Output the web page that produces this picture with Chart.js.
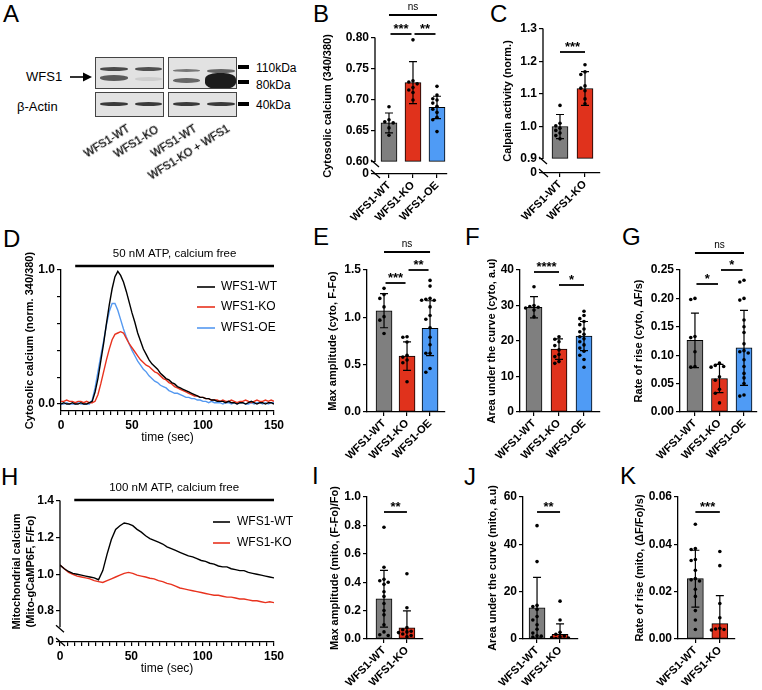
<!DOCTYPE html>
<html>
<head>
<meta charset="utf-8">
<script src="https://cdn.jsdelivr.net/npm/chart.js@4.4.1/dist/chart.umd.min.js"></script>
<style>
  body { margin: 0; background: #fff; }
  #fig { position: relative; width: 762px; height: 690px; overflow: hidden; font-family: 'Liberation Sans', Arial, Helvetica, sans-serif; color: #000; }
  .lt { position: absolute; font-size: 24px; line-height: 24px; }
  .blot { position: absolute; background: #e2e2e2; border: 1px solid #444; box-sizing: border-box; overflow: hidden; }
  .band { position: absolute; border-radius: 50% / 45%; filter: blur(0.7px); }
  .mk { position: absolute; background: #000; left: 238px; width: 11px; height: 4px; }
  .tx { position: absolute; font-size: 12px; line-height: 14px; white-space: nowrap; }
  .rl { position: absolute; font-size: 11px; line-height: 12px; white-space: nowrap; transform-origin: 100% 50%; transform: rotate(-32deg); will-change: transform; -webkit-text-stroke: 0.3px #000; }
</style>
</head>
<body>
<div id="fig">
  <!-- panel letters -->
  <div class="lt" style="left:3px;top:2px">A</div>
  <div class="lt" style="left:313px;top:2px">B</div>
  <div class="lt" style="left:490px;top:2px">C</div>
  <div class="lt" style="left:3px;top:227px">D</div>
  <div class="lt" style="left:313px;top:225px">E</div>
  <div class="lt" style="left:465px;top:225px">F</div>
  <div class="lt" style="left:622px;top:225px">G</div>
  <div class="lt" style="left:1px;top:465px">H</div>
  <div class="lt" style="left:312px;top:464px">I</div>
  <div class="lt" style="left:464px;top:465px">J</div>
  <div class="lt" style="left:620px;top:464px">K</div>

  <!-- western blot (panel A) -->
  <div class="tx" style="left:26px;top:70px;font-size:13px">WFS1</div>
  <svg style="position:absolute;left:69px;top:71px" width="24" height="12">
    <line x1="1" y1="6" x2="16" y2="6" stroke="#000" stroke-width="1.6"/>
    <polygon points="14,1.5 23,6 14,10.5" fill="#000"/>
  </svg>
  <div class="tx" style="left:17px;top:100px;font-size:13px">β-Actin</div>

  <div class="blot" style="left:95px;top:57px;width:69px;height:32px">
    <div class="band" style="left:4px;top:9px;width:28px;height:4px;background:#4a4a4a"></div>
    <div class="band" style="left:39px;top:9px;width:27px;height:4px;background:#505050"></div>
    <div class="band" style="left:4px;top:17px;width:28px;height:6px;background:#5a5a5a"></div>
    <div class="band" style="left:39px;top:19px;width:27px;height:4px;background:#cdcdcd"></div>
  </div>
  <div class="blot" style="left:168px;top:57px;width:69px;height:32px">
    <div class="band" style="left:4px;top:11px;width:27px;height:3px;background:#777"></div>
    <div class="band" style="left:38px;top:11px;width:28px;height:4px;background:#666"></div>
    <div class="band" style="left:4px;top:20px;width:27px;height:5px;background:#666"></div>
    <div class="band" style="left:36px;top:15px;width:31px;height:16px;background:#1c1c1c;border-radius:40%"></div>
  </div>
  <div class="blot" style="left:95px;top:92px;width:69px;height:25px">
    <div class="band" style="left:4px;top:9px;width:28px;height:4px;background:#3a3a3a"></div>
    <div class="band" style="left:39px;top:9px;width:27px;height:4px;background:#3a3a3a"></div>
  </div>
  <div class="blot" style="left:168px;top:92px;width:69px;height:25px">
    <div class="band" style="left:4px;top:9px;width:27px;height:4px;background:#3a3a3a"></div>
    <div class="band" style="left:38px;top:9px;width:28px;height:4px;background:#3a3a3a"></div>
  </div>
  <div class="mk" style="top:65px"></div>
  <div class="mk" style="top:80px"></div>
  <div class="mk" style="top:102px"></div>
  <div class="tx" style="left:256px;top:61px">110kDa</div>
  <div class="tx" style="left:256px;top:78px">80kDa</div>
  <div class="tx" style="left:256px;top:98px">40kDa</div>
  <div class="rl" style="right:634px;top:121px">WFS1-WT</div>
  <div class="rl" style="right:605px;top:122px">WFS1-KO</div>
  <div class="rl" style="right:567px;top:121px">WFS1-WT</div>
  <div class="rl" style="right:534px;top:121px">WFS1-KO + WFS1</div>
</div>

<script>
// ---------- data ----------
const groups3 = ["WFS1-WT", "WFS1-KO", "WFS1-OE"];
const groups2 = ["WFS1-WT", "WFS1-KO"];
const barColors = ["#7f7f7f", "#e0321c", "#4f9bf5"];

// B: cytosolic calcium
const meanB = [0.663, 0.728, 0.688];
const sdB = [0.016, 0.034, 0.018];
const dotsB = [
  [0.689, 0.668, 0.665, 0.663, 0.655, 0.643],
  [0.797, 0.731, 0.729, 0.726, 0.720, 0.716, 0.712, 0.700],
  [0.722, 0.708, 0.702, 0.700, 0.695, 0.690, 0.685, 0.680, 0.672, 0.668, 0.649],
];
const ticksB = [0.60, 0.65, 0.70, 0.75, 0.80];
const sigB = [["ns", 0, 2], ["***", 0, 1], ["**", 1, 2]];

// C: calpain activity
const meanC = [1.0, 1.117];
const sdC = [0.037, 0.052];
const dotsC = [
  [1.065, 1.010, 1.002, 0.995, 0.988, 0.980, 0.972, 0.962],
  [1.190, 1.168, 1.160, 1.125, 1.118, 1.110, 1.085, 1.070],
];
const ticksC = [0.9, 1.0, 1.1, 1.2, 1.3];
const sigC = [["***", 0, 1]];

// D: cytosolic calcium traces (time in sec)
const timeD = [0, 2, 4, 6, 8, 10, 12, 14, 16, 18, 20, 22, 24, 26, 28, 30, 32, 34, 36, 38, 40,
  42, 44, 46, 48, 50, 52, 54, 56, 58, 60, 62, 64, 66, 68, 70, 72, 74, 76, 78, 80,
  82, 84, 86, 88, 90, 92, 94, 96, 98, 100, 102, 104, 106, 108, 110, 112, 114, 116, 118, 120,
  122, 124, 126, 128, 130, 132, 134, 136, 138, 140, 142, 144, 146, 148, 150];
const wtD = [0.00, 0.01, 0.00, 0.00, 0.01, 0.00, 0.00, 0.01, 0.00, 0.00, 0.01,
  0.02, 0.09, 0.19, 0.32, 0.45, 0.60, 0.74, 0.86, 0.95, 0.99,
  0.96, 0.91, 0.84, 0.76, 0.68, 0.61, 0.53, 0.47, 0.41, 0.37,
  0.33, 0.30, 0.28, 0.26, 0.23, 0.21, 0.19, 0.18, 0.16, 0.15,
  0.13, 0.12, 0.11, 0.10, 0.09, 0.08, 0.07, 0.06, 0.05, 0.05,
  0.04, 0.04, 0.03, 0.03, 0.02, 0.02, 0.02, 0.01, 0.02, 0.01,
  0.01, 0.00, 0.01, 0.01, 0.00, 0.01, 0.02, 0.01, 0.00, 0.01, 0.01, 0.00, 0.01, 0.01, 0.00];
const koD = [0.02, 0.02, 0.03, 0.02, 0.02, 0.01, 0.02, 0.02, 0.01, 0.02, 0.01,
  0.01, 0.02, 0.07, 0.15, 0.24, 0.33, 0.41, 0.48, 0.52, 0.53,
  0.54, 0.53, 0.49, 0.45, 0.42, 0.39, 0.36, 0.33, 0.31, 0.29,
  0.28, 0.26, 0.24, 0.23, 0.21, 0.19, 0.18, 0.16, 0.15, 0.13,
  0.12, 0.11, 0.10, 0.09, 0.08, 0.07, 0.06, 0.06, 0.05, 0.05,
  0.04, 0.04, 0.03, 0.03, 0.03, 0.02, 0.03, 0.02, 0.02, 0.03,
  0.02, 0.01, 0.02, 0.02, 0.03, 0.02, 0.01, 0.02, 0.03, 0.02, 0.02, 0.03, 0.02, 0.03, 0.02];
const oeD = [0.00, 0.00, 0.01, 0.00, 0.00, 0.00, 0.01, 0.00, 0.00, 0.00, 0.00,
  0.03, 0.12, 0.24, 0.36, 0.47, 0.59, 0.69, 0.75, 0.75, 0.70,
  0.63, 0.56, 0.50, 0.45, 0.40, 0.36, 0.32, 0.29, 0.26, 0.24,
  0.21, 0.19, 0.17, 0.16, 0.14, 0.13, 0.12, 0.10, 0.09, 0.08,
  0.08, 0.07, 0.06, 0.05, 0.05, 0.04, 0.04, 0.03, 0.03, 0.02,
  0.02, 0.01, 0.02, 0.01, 0.01, 0.01, 0.00, 0.01, 0.01, 0.00,
  0.01, 0.00, 0.01, 0.01, 0.00, 0.00, 0.01, 0.00, 0.01, 0.01, 0.00, 0.01, 0.00, 0.01, 0.01];
const yTicksD = [0.0, 0.5, 1.0];
const xTicksTime = [0, 50, 100, 150];

// E: max amplitude (cyto)
const meanE = [1.07, 0.59, 0.885];
const sdE = [0.18, 0.15, 0.29];
const dotsE = [
  [1.306, 1.24, 1.20, 1.11, 1.007, 0.97, 0.83],
  [0.795, 0.79, 0.74, 0.60, 0.58, 0.55, 0.52, 0.32],
  [1.39, 1.33, 1.20, 1.19, 1.18, 1.18, 1.11, 1.02, 0.98, 0.89, 0.79, 0.71, 0.62, 0.62, 0.46, 0.42],
];
const ticksE = [0.0, 0.5, 1.0, 1.5];
const sigE = [["ns", 0, 2], ["***", 0, 1], ["**", 1, 2]];

// F: area under the curve (cyto)
const meanF = [29.5, 17.7, 21.4];
const sdF = [3.0, 2.9, 4.1];
const dotsF = [
  [35.3, 30.0, 29.7, 29.5, 29.3, 28.7, 26.8],
  [21.2, 20.5, 19.8, 18.7, 17.5, 16.2, 15.6, 14.2, 13.7],
  [28.4, 27.2, 26.3, 25.5, 24.6, 23.4, 22.6, 21.9, 21.2, 20.6, 19.8, 18.9, 18.0, 17.1, 16.0, 14.8, 12.6],
];
const ticksF = [0, 10, 20, 30, 40];
const sigF = [["****", 0, 1], ["*", 1, 2]];

// G: rate of rise (cyto)
const meanG = [0.126, 0.059, 0.113];
const sdG = [0.048, 0.025, 0.066];
const dotsG = [
  [0.200, 0.198, 0.133, 0.131, 0.106, 0.080, 0.079],
  [0.086, 0.082, 0.080, 0.079, 0.062, 0.056, 0.040, 0.033, 0.016],
  [0.232, 0.229, 0.200, 0.197, 0.162, 0.150, 0.140, 0.120, 0.108, 0.106, 0.104, 0.092, 0.080, 0.068, 0.060, 0.050, 0.030, 0.028],
];
const ticksG = [0.00, 0.05, 0.10, 0.15, 0.20, 0.25];
const sigG = [["ns", 0, 2], ["*", 0, 1], ["*", 1, 2]];

// H: mitochondrial calcium traces
const timeH = [0, 3, 6, 9, 12, 15, 18, 21, 24, 27, 30, 33, 36, 39, 42, 45, 48, 51, 54, 57,
  60, 63, 66, 69, 72, 75, 78, 81, 84, 87, 90, 93, 96, 99, 102, 105, 108, 111, 114, 117,
  120, 123, 126, 129, 132, 135, 138, 141, 144, 147, 150];
const wtH = [1.05, 1.03, 1.015, 1.005, 1.0, 0.995, 0.99, 0.985, 0.98, 0.97,
  1.02, 1.11, 1.19, 1.245, 1.265, 1.28, 1.275, 1.265, 1.245, 1.23,
  1.21, 1.195, 1.185, 1.175, 1.165, 1.15, 1.14, 1.13, 1.12, 1.11,
  1.10, 1.095, 1.085, 1.075, 1.07, 1.06, 1.055, 1.045, 1.04, 1.04,
  1.03, 1.025, 1.02, 1.02, 1.01, 1.005, 1.0, 0.995, 0.99, 0.985, 0.98];
const koH = [1.05, 1.03, 1.01, 1.0, 0.99, 0.985, 0.98, 0.975, 0.965, 0.96,
  0.955, 0.965, 0.975, 0.985, 0.995, 1.005, 1.01, 1.005, 0.995, 0.99,
  0.985, 0.978, 0.975, 0.965, 0.96, 0.95, 0.945, 0.935, 0.925, 0.92,
  0.915, 0.91, 0.905, 0.9, 0.895, 0.89, 0.885, 0.885, 0.88, 0.875,
  0.875, 0.87, 0.865, 0.865, 0.86, 0.855, 0.855, 0.85, 0.845, 0.85, 0.845];
const yTicksH = [0.8, 1.0, 1.2, 1.4];

// I: max amplitude (mito)
const meanI = [0.283, 0.078];
const sdI = [0.2, 0.12];
const dotsI = [
  [0.787, 0.505, 0.420, 0.410, 0.400, 0.385, 0.333, 0.300, 0.250, 0.200, 0.170, 0.100, 0.050, 0.030, 0.025],
  [0.460, 0.220, 0.080, 0.065, 0.055, 0.050, 0.045, 0.035, 0.025, 0.015],
];
const ticksI = [0.0, 0.2, 0.4, 0.6, 0.8, 1.0];
const sigI = [["**", 0, 1]];

// J: area under the curve (mito)
const meanJ = [13.2, 2.0];
const sdJ = [12.8, 4.4];
const dotsJ = [
  [47.9, 32.7, 14.2, 13.7, 12.5, 9.5, 8.0, 6.0, 4.1, 2.5, 1.4, 1.2, 0.8],
  [16.0, 8.0, 2.8, 2.0, 1.3, 0.9, 0.6, 0.4, 0.2],
];
const ticksJ = [0, 20, 40, 60];
const sigJ = [["**", 0, 1]];

// K: rate of rise (mito)
const meanK = [0.0255, 0.0065];
const sdK = [0.012, 0.0118];
const dotsK = [
  [0.0485, 0.0382, 0.0378, 0.0336, 0.0332, 0.029, 0.0255, 0.0250, 0.0245, 0.021, 0.018, 0.012, 0.008, 0.004],
  [0.037, 0.031, 0.015, 0.009, 0.0045, 0.0042, 0.004, 0.0038],
];
const ticksK = [0.00, 0.02, 0.04, 0.06];
const sigK = [["***", 0, 1]];

// ---------- drawing ----------
const FF = "'Liberation Sans', Arial, Helvetica, sans-serif";
Chart.defaults.font.family = FF;
Chart.defaults.color = "#000";

// error bars, significance bars, broken axes, stimulus bar and legend
const extras = {
  id: "extras",
  afterDatasetDraw(chart, args, o) {
    if (args.index !== 0 || !o.mean) return;
    const { ctx } = chart;
    const x = chart.scales.x, y = chart.scales.y;
    ctx.save();
    ctx.strokeStyle = "#000";
    ctx.lineWidth = 1.2;
    o.mean.forEach((m, i) => {
      const xc = x.getPixelForValue(i);
      const lo = Math.max(m - o.sd[i], o.base);
      const y1 = y.getPixelForValue(m + o.sd[i]);
      const y0 = y.getPixelForValue(lo);
      ctx.beginPath();
      ctx.moveTo(xc, y0);
      ctx.lineTo(xc, y1);
      ctx.moveTo(xc - 4, y1);
      ctx.lineTo(xc + 4, y1);
      if (m - o.sd[i] > o.base) {
        ctx.moveTo(xc - 4, y0);
        ctx.lineTo(xc + 4, y0);
      }
      ctx.stroke();
    });
    ctx.restore();
  },
  afterDraw(chart, args, o) {
    const { ctx, chartArea: ca } = chart;
    const x = chart.scales.x, y = chart.scales.y;
    ctx.save();
    ctx.strokeStyle = "#000";
    ctx.fillStyle = "#000";

    if (o.sig) {
      o.sig.forEach((s, k) => {
        const ly = o.lev[k] - o.T;
        const sh = o.shrink ? o.shrink[k] : 0;
        const xa = x.getPixelForValue(s[1]) + sh;
        const xb = x.getPixelForValue(s[2]) - sh;
        ctx.lineWidth = 1.8;
        ctx.beginPath();
        ctx.moveTo(xa, ly);
        ctx.lineTo(xb, ly);
        ctx.stroke();
        const ns = s[0] === "ns";
        ctx.font = ns ? `10px ${FF}` : `bold 13px ${FF}`;
        ctx.textAlign = "center";
        ctx.textBaseline = "alphabetic";
        ctx.fillText(s[0], (xa + xb) / 2, ly - (ns ? 5 : 1));
      });
    }

    if (o.brk !== undefined) {
      const ax = ca.left, yb = y.getPixelForValue(o.brk), bot = ca.bottom;
      ctx.lineWidth = 1.3;
      ctx.beginPath();
      ctx.moveTo(ax, ca.top - 0.6);
      ctx.lineTo(ax, yb);
      ctx.moveTo(ax - 4, yb - 2);
      ctx.lineTo(ax + 4, yb + 5);
      ctx.moveTo(ax - 4, bot - 4);
      ctx.lineTo(ax + 5, bot + 4);
      ctx.stroke();
    }

    if (o.stim) {
      const xa = x.getPixelForValue(o.stim.from), xb = x.getPixelForValue(o.stim.to);
      ctx.lineWidth = 2.5;
      ctx.beginPath();
      ctx.moveTo(xa, o.stim.y - o.T);
      ctx.lineTo(xb, o.stim.y - o.T);
      ctx.stroke();
      ctx.font = `11.5px ${FF}`;
      ctx.textAlign = "center";
      ctx.textBaseline = "middle";
      ctx.fillText(o.stim.text, (xa + xb) / 2, o.stim.ty - o.T);
    }

    if (o.legend) {
      chart.data.datasets.forEach((d, k) => {
        const ly = o.legend.ys[k] - o.T;
        ctx.strokeStyle = d.borderColor;
        ctx.lineWidth = 1.6;
        ctx.beginPath();
        ctx.moveTo(o.legend.x1 - o.L, ly);
        ctx.lineTo(o.legend.x2 - o.L, ly);
        ctx.stroke();
        ctx.fillStyle = "#000";
        ctx.font = `12px ${FF}`;
        ctx.textAlign = "left";
        ctx.textBaseline = "middle";
        ctx.fillText(d.label, o.legend.tx - o.L, ly);
      });
    }
    ctx.restore();
  },
};
Chart.register(extras);

// canvas placed at box = [left, top, width, height] (page px); plot area pinned to area (page px)
function mkPanel(box, area, cfg) {
  const [L, T, W, H] = box;
  const cv = document.createElement("canvas");
  cv.width = W;
  cv.height = H;
  cv.style.cssText = `position:absolute;left:${L}px;top:${T}px;width:${W}px;height:${H}px`;
  document.getElementById("fig").appendChild(cv);
  const o = cfg.options;
  o.responsive = false;
  o.animation = false;
  o.events = [];
  o.layout = { autoPadding: false, padding: { left: 0, top: area.top - T, right: L + W - area.right, bottom: 0 } };
  o.scales.x.afterFit = (s) => { s.height = T + H - area.bottom; };
  o.scales.y.afterFit = (s) => { s.width = area.left - L; };
  o.plugins = Object.assign({ legend: { display: false }, tooltip: { enabled: false } }, o.plugins);
  o.plugins.extras = Object.assign({ T, L }, o.plugins.extras || {});
  return new Chart(cv, cfg);
}

// spread overlapping dots sideways (pixel-based beeswarm)
function swarm(vals, i, ppx, ppy) {
  const placed = [];
  return vals.map((v) => {
    const py = v * ppy;
    let px = 0;
    for (const k of [0, -1, 1, -2, 2, -3, 3]) {
      px = k * 4.2;
      if (placed.every((q) => Math.hypot(q[0] - px, q[1] - py) >= 4)) break;
    }
    placed.push([px, py]);
    return { x: i + px / ppx, y: v };
  });
}

const axisGrid = { drawOnChartArea: false, tickLength: 4, color: "#000", lineWidth: 1.2 };
const axisBorder = { color: "#000", width: 1.3 };

function barPanel(p) {
  const [L, T, W, H] = p.box;
  const a = p.area;
  const ppx = (a.right - a.left) / (p.xr[1] - p.xr[0]);
  const ppy = (a.bottom - a.top) / (p.yr[1] - p.yr[0]);
  const dotData = [];
  p.dots.forEach((vals, i) => dotData.push(...swarm(vals, i, ppx, ppy)));
  const base = p.base !== undefined ? p.base : 0;
  const yTickVals = p.brk !== undefined ? [p.yr[0], ...p.ticks] : p.ticks;

  return mkPanel(p.box, a, {
    type: "bar",
    data: {
      datasets: [
        {
          type: "bar",
          data: p.mean.map((m, i) => ({ x: i, y: m })),
          backgroundColor: barColors.slice(0, p.mean.length),
          borderColor: "#000",
          borderWidth: 1,
          borderSkipped: false,
          barThickness: 16,
          base: base,
          order: 2,
        },
        {
          type: "scatter",
          data: dotData,
          pointRadius: 1.8,
          pointBackgroundColor: "#000",
          pointBorderWidth: 0,
          order: 1,
        },
      ],
    },
    options: {
      scales: {
        x: {
          type: "linear",
          offset: false,
          min: p.xr[0],
          max: p.xr[1],
          afterBuildTicks: (s) => { s.ticks = p.names.map((n, i) => ({ value: i })); },
          ticks: {
            callback: (v) => p.names[v],
            autoSkip: false,
            minRotation: 45,
            maxRotation: 45,
            padding: 1,
            font: { size: 11, weight: "bold" },
          },
          grid: Object.assign({ offset: false }, axisGrid),
          border: axisBorder,
        },
        y: {
          min: p.yr[0],
          max: p.yr[1],
          afterBuildTicks: (s) => { s.ticks = yTickVals.map((v) => ({ value: v })); },
          ticks: {
            callback: (v) => (p.brk !== undefined && v === p.yr[0] ? "0" : v.toFixed(p.dec)),
            padding: 2,
            font: { size: 12, weight: "bold" },
          },
          grid: axisGrid,
          border: Object.assign({ display: p.brk === undefined }, axisBorder),
          title: {
            display: true,
            text: p.title,
            font: { size: 11, weight: "bold" },
            padding: { top: p.titleX - L - 6.6, bottom: 0 },
          },
        },
      },
      plugins: {
        extras: { mean: p.mean, sd: p.sd, base: base, sig: p.sig, lev: p.lev, shrink: p.shrink, brk: p.brk },
      },
    },
  });
}

function tracePanel(p) {
  const [L, T, W, H] = p.box;
  return mkPanel(p.box, p.area, {
    type: "line",
    data: {
      datasets: p.series.map((s) => ({
        label: s.label,
        data: p.time.map((t, i) => ({ x: t, y: s.values[i] })),
        borderColor: s.color,
        borderWidth: 1.4,
        pointRadius: 0,
        tension: 0,
        fill: false,
      })),
    },
    options: {
      scales: {
        x: {
          type: "linear",
          min: 0,
          max: 150,
          afterBuildTicks: (s) => {
            const t = [];
            for (let v = 0; v <= 150; v += 5) t.push({ value: v });
            s.ticks = t;
          },
          ticks: {
            callback: (v) => (xTicksTime.includes(v) ? String(v) : ""),
            autoSkip: false,
            maxRotation: 0,
            padding: 3,
            font: { size: 12, weight: "bold" },
          },
          grid: axisGrid,
          border: axisBorder,
          title: {
            display: true,
            text: "time (sec)",
            font: { size: 12 },
            padding: { top: 0, bottom: T + H - p.xTitleY - 7.2 },
          },
        },
        y: {
          min: p.yr[0],
          max: p.yr[1],
          afterBuildTicks: (s) => { s.ticks = p.yTickVals.map((v) => ({ value: v })); },
          ticks: {
            callback: p.yLabel,
            padding: 2,
            font: { size: 12, weight: "bold" },
          },
          grid: axisGrid,
          border: Object.assign({ display: p.brk === undefined }, axisBorder),
          title: {
            display: true,
            text: p.title,
            font: { size: 11, weight: "bold", lineHeight: 1.27 },
            padding: { top: p.titlePad, bottom: 0 },
          },
        },
      },
      plugins: {
        extras: { stim: p.stim, legend: p.legend, brk: p.brk },
      },
    },
  });
}

// B
barPanel({
  box: [318, 0, 137, 225], area: { left: 375, top: 38, right: 447, bottom: 174 },
  xr: [-0.583, 2.417], yr: [0.5806, 0.80], base: 0.6, brk: 0.6,
  names: groups3, mean: meanB, sd: sdB, dots: dotsB, ticks: ticksB, dec: 2,
  title: "Cytosolic calcium (340/380)", titleX: 328,
  sig: sigB, lev: [15, 34, 34], shrink: [0, 1.5, 1.5],
});

// C
barPanel({
  box: [498, 0, 112, 225], area: { left: 543, top: 29, right: 600, bottom: 173 },
  xr: [-0.68, 1.6], yr: [0.857, 1.3], base: 0.9, brk: 0.9,
  names: groups2, mean: meanC, sd: sdC, dots: dotsC, ticks: ticksC, dec: 1,
  title: "Calpain activity (norm.)", titleX: 508,
  sig: sigC, lev: [52],
});

// D
const dTicks = [];
for (let v = 0; v <= 10; v++) dTicks.push(v / 10);
tracePanel({
  box: [0, 225, 300, 222], area: { left: 61, top: 270, right: 274, bottom: 411 },
  yr: [-0.052, 1.0], yTickVals: dTicks,
  yLabel: (v) => (yTicksD.some((t) => Math.abs(t - v) < 1e-9) ? v.toFixed(1) : ""),
  time: timeD,
  series: [
    { label: "WFS1-WT", values: wtD, color: "#000000" },
    { label: "WFS1-KO", values: koD, color: "#e8321e" },
    { label: "WFS1-OE", values: oeD, color: "#5599f0" },
  ],
  title: "Cytosolic calcium (norm. 340/380)", titlePad: 30 - 7,
  xTitleY: 438,
  stim: { text: "50 nM ATP, calcium free", from: 10, to: 150, y: 266, ty: 254 },
  legend: { x1: 197, x2: 215, tx: 221, ys: [287, 307, 328] },
});

// E
barPanel({
  box: [308, 225, 142, 235], area: { left: 367, top: 270, right: 445, bottom: 412 },
  xr: [-0.74, 2.65], yr: [0, 1.5],
  names: groups3, mean: meanE, sd: sdE, dots: dotsE, ticks: ticksE, dec: 1,
  title: "Max amplitude (cyto, F-Fo)", titleX: 333,
  sig: sigE, lev: [252, 283, 270], shrink: [0, 1.5, 1.5],
});

// F
barPanel({
  box: [462, 225, 143, 235], area: { left: 520, top: 270, right: 600, bottom: 412 },
  xr: [-0.56, 2.64], yr: [0, 40],
  names: groups3, mean: meanF, sd: sdF, dots: dotsF, ticks: ticksF, dec: 0,
  title: "Area under the curve (cyto, a.u)", titleX: 492,
  sig: sigF, lev: [272, 285],
});

// G
barPanel({
  box: [612, 225, 150, 235], area: { left: 680, top: 270, right: 757, bottom: 412 },
  xr: [-0.61, 2.53], yr: [0, 0.25],
  names: groups3, mean: meanG, sd: sdG, dots: dotsG, ticks: ticksG, dec: 2,
  title: "Rate of rise (cyto, \u0394F/s)", titleX: 639,
  sig: sigG, lev: [253, 284, 270], shrink: [0, 1.5, 1.5],
});

// H
tracePanel({
  box: [0, 462, 300, 228], area: { left: 60, top: 501, right: 274, bottom: 642 },
  yr: [0.63, 1.4], yTickVals: [0.63, ...yTicksH], brk: 0.71,
  yLabel: (v) => (v === 0.63 ? "0" : v.toFixed(1)),
  time: timeH,
  series: [
    { label: "WFS1-WT", values: wtH, color: "#000000" },
    { label: "WFS1-KO", values: koH, color: "#e8321e" },
  ],
  title: ["Mitochondrial calcium", "(Mito-gCaMP6F, F/Fo)"], titlePad: 10,
  xTitleY: 669,
  stim: { text: "100 nM ATP, calcium free", from: 10, to: 150, y: 500, ty: 488 },
  legend: { x1: 213, x2: 230, tx: 237, ys: [522, 543] },
});

// I
barPanel({
  box: [308, 462, 122, 228], area: { left: 367, top: 497, right: 423, bottom: 639 },
  xr: [-0.74, 1.7], yr: [0, 1.0],
  names: groups2, mean: meanI, sd: sdI, dots: dotsI, ticks: ticksI, dec: 1,
  title: "Max amplitude (mito, (F-Fo)/Fo)", titleX: 335,
  sig: sigI, lev: [512],
});

// J
barPanel({
  box: [462, 462, 125, 228], area: { left: 523, top: 497, right: 578, bottom: 639 },
  xr: [-0.61, 1.78], yr: [0, 60],
  names: groups2, mean: meanJ, sd: sdJ, dots: dotsJ, ticks: ticksJ, dec: 0,
  title: "Area under the curve (mito, a.u)", titleX: 493,
  sig: sigJ, lev: [512],
});

// K
barPanel({
  box: [612, 462, 150, 228], area: { left: 678, top: 497, right: 735, bottom: 639 },
  xr: [-0.71, 1.62], yr: [0, 0.06],
  names: groups2, mean: meanK, sd: sdK, dots: dotsK, ticks: ticksK, dec: 2,
  title: "Rate of rise (mito, (\u0394F/Fo)/s)", titleX: 640,
  sig: sigK, lev: [512],
});
</script>
</body>
</html>
